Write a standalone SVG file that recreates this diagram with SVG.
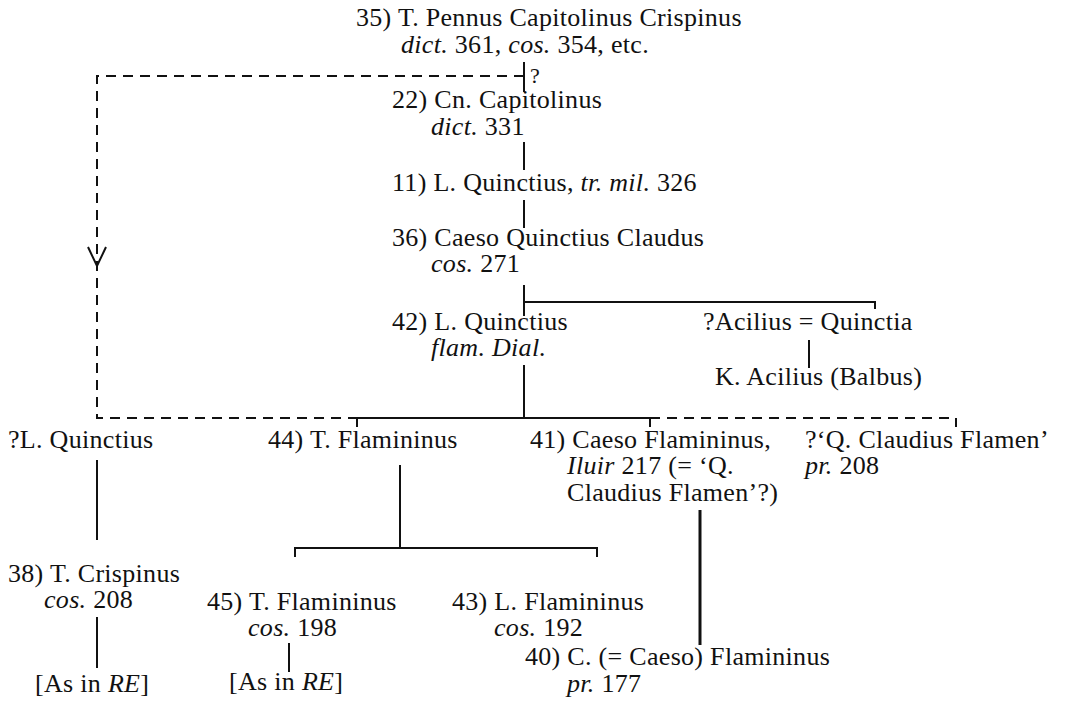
<svg xmlns="http://www.w3.org/2000/svg" width="1066" height="709" viewBox="0 0 1066 709">
<style>
text{font-family:"Liberation Serif","DejaVu Serif",serif;font-size:26px;letter-spacing:0.3px;fill:#111}
.i{font-style:italic}
.q{font-size:22px}
.s{fill:none;stroke:#111;stroke-width:2}
.d{fill:none;stroke:#111;stroke-width:2;stroke-dasharray:10 7}
</style>
<rect width="1066" height="709" fill="#fff"/>
<g id="connectors">
<path class="s" d="M524,62V92"/>
<text class="q" x="530" y="83">?</text>
<path class="d" d="M524,76H97V418H357"/>
<path class="s" d="M88,247L97,266L106,247"/>
<path class="s" d="M524,142V170"/>
<path class="s" d="M524,200V228"/>
<path class="s" d="M524,285V316"/>
<path class="s" d="M524,302H875V309"/>
<path class="s" d="M809,340V368"/>
<path class="s" d="M524,365V418"/>
<path class="s" d="M357,427V418H650V427"/>
<path class="d" d="M650,418H956"/>
<path class="s" d="M956,418V427"/>
<path class="s" d="M97,460V540"/>
<path class="s" d="M400,465V548"/>
<path class="s" d="M295,557V548H597V557"/>
<path class="s" d="M700,510V645" style="stroke-width:3"/>
<path class="s" d="M97,617V668"/>
<path class="s" d="M289,643V672"/>
</g>
<g id="n35"><text x="356" y="26">35) T. Pennus Capitolinus Crispinus</text><text x="401" y="53"><tspan class="i">dict.</tspan> 361, <tspan class="i">cos.</tspan> 354, etc.</text></g>
<g id="n22"><text x="392" y="108">22) Cn. Capitolinus</text><text x="431" y="135"><tspan class="i">dict.</tspan> 331</text></g>
<g id="n11"><text x="392" y="191">11) L. Quinctius, <tspan class="i">tr. mil.</tspan> 326</text></g>
<g id="n36"><text x="392" y="246">36) Caeso Quinctius Claudus</text><text x="431" y="272"><tspan class="i">cos.</tspan> 271</text></g>
<g id="n42"><text x="392" y="330">42) L. Quinctius</text><text x="431" y="356" class="i">flam. Dial.</text></g>
<g id="nAcilius"><text x="703" y="330">?Acilius = Quinctia</text></g>
<g id="nKAcilius"><text x="715" y="385">K. Acilius (Balbus)</text></g>
<g id="nLQ"><text x="8" y="448">?L. Quinctius</text></g>
<g id="n44"><text x="268" y="448">44) T. Flamininus</text></g>
<g id="n41"><text x="530" y="448">41) Caeso Flamininus,</text><text x="567" y="474"><tspan class="i">Iluir</tspan> 217 (= ‘Q.</text><text x="567" y="501">Claudius Flamen’?)</text></g>
<g id="nQCF"><text x="805" y="448">?‘Q. Claudius Flamen’</text><text x="805" y="474"><tspan class="i">pr.</tspan> 208</text></g>
<g id="n38"><text x="8" y="582">38) T. Crispinus</text><text x="44" y="608"><tspan class="i">cos.</tspan> 208</text></g>
<g id="nRE1"><text x="35" y="692">[As in <tspan class="i">RE</tspan>]</text></g>
<g id="n45"><text x="207" y="610">45) T. Flamininus</text><text x="248" y="636"><tspan class="i">cos.</tspan> 198</text></g>
<g id="nRE2"><text x="229" y="690">[As in <tspan class="i">RE</tspan>]</text></g>
<g id="n43"><text x="452" y="610">43) L. Flamininus</text><text x="494" y="636"><tspan class="i">cos.</tspan> 192</text></g>
<g id="n40"><text x="525" y="665">40) C. (= Caeso) Flamininus</text><text x="567" y="692"><tspan class="i">pr.</tspan> 177</text></g>
</svg>
